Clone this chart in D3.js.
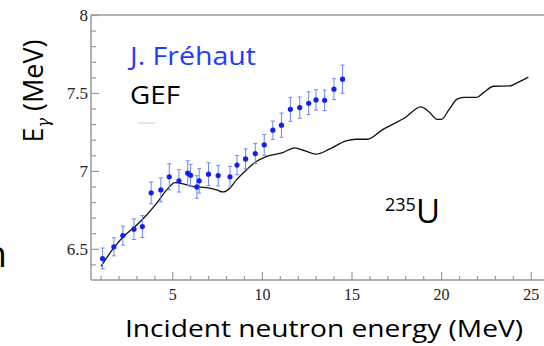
<!DOCTYPE html>
<html><head><meta charset="utf-8">
<script src="https://cdn.jsdelivr.net/npm/d3@7"></script>
<style>html,body{margin:0;padding:0;background:#fff;overflow:hidden}</style>
</head><body>
<svg id="c" width="544" height="346"></svg>
<script>
// Data
const frehautE = [1.11,1.74,2.24,2.86,3.33,3.82,4.36,4.83,5.37,5.86,6.02,6.37,6.5,7.02,7.56,8.22,8.61,9.09,9.63,10.13,10.61,11.09,11.59,12.11,12.61,13.02,13.5,14.02,14.5];
const frehautEg = [6.438,6.513,6.585,6.626,6.643,6.859,6.878,6.962,6.936,6.985,6.972,6.897,6.936,6.979,6.970,6.962,7.037,7.077,7.111,7.167,7.261,7.293,7.395,7.406,7.434,7.455,7.453,7.524,7.588];
const frehautErr = [0.067,0.058,0.061,0.066,0.07,0.07,0.077,0.084,0.072,0.08,0.07,0.072,0.078,0.073,0.066,0.067,0.062,0.064,0.064,0.067,0.059,0.078,0.077,0.068,0.073,0.065,0.066,0.067,0.09];
const gefE = [1.02,1.72,2.28,2.93,3.49,4.13,4.69,5.15,5.61,6.17,6.91,7.47,7.83,8.21,8.58,9.13,9.69,10.24,11.17,11.82,12.37,13.02,13.76,14.69,15.24,15.89,16.72,18.02,18.86,19.32,19.78,20.02,20.43,20.89,21.26,22.0,22.37,22.93,23.86,24.13,24.87];
const gefEg = [6.387,6.504,6.579,6.643,6.707,6.793,6.878,6.925,6.917,6.899,6.893,6.878,6.865,6.889,6.942,7.006,7.060,7.092,7.117,7.147,7.130,7.107,7.139,7.192,7.203,7.203,7.263,7.344,7.410,7.380,7.331,7.331,7.391,7.460,7.472,7.472,7.502,7.543,7.545,7.558,7.601];
const xMajorTicks = [5,10,15,20,25];
const xMinorTicks = d3.range(1,26).filter(v => v % 5 !== 0);
const yMajorTicks = [6.5,7,7.5,8];
const yMinorTicks = [6.4,6.6,6.7,6.8,6.9,7.1,7.2,7.3,7.4,7.6,7.7,7.8,7.9];

const svg = d3.select("#c");
const x = d3.scaleLinear().domain([0,25]).range([82.7,530.7]);
const y = d3.scaleLinear().domain([6.3,8]).range([280,15]);
const axisColor = "#999";
const pL = 91, pR = 544, pT = 15, pB = 280;

// frame lines
svg.append("line").attr("x1",pL).attr("x2",pR).attr("y1",pT).attr("y2",pT)
  .attr("stroke",axisColor).attr("stroke-width",1.5);

// x axis
const gx = svg.append("g").attr("transform",`translate(0,${pB})`);
gx.call(d3.axisBottom(x).tickValues(xMajorTicks).tickSize(-8).tickPadding(9).tickFormat(d3.format("d")));
const gxm = svg.append("g").attr("transform",`translate(0,${pB})`);
gxm.call(d3.axisBottom(x).tickValues(xMinorTicks).tickSize(-4).tickFormat(""));
[gx,gxm].forEach(g => { g.select(".domain").remove(); g.selectAll("line").attr("stroke",axisColor).attr("stroke-width",1.2); });
gx.selectAll("text").attr("font-family","Liberation Serif").attr("font-size",16).attr("fill","#222");
svg.append("line").attr("x1",pL).attr("x2",pR).attr("y1",pB).attr("y2",pB)
  .attr("stroke",axisColor).attr("stroke-width",1.5);

// y axis
const gy = svg.append("g").attr("transform",`translate(${pL},0)`);
gy.call(d3.axisLeft(y).tickValues(yMajorTicks).tickSize(-8).tickPadding(3).tickFormat(d => String(d)));
const gym = svg.append("g").attr("transform",`translate(${pL},0)`);
gym.call(d3.axisLeft(y).tickValues(yMinorTicks).tickSize(-5).tickFormat(""));
[gy,gym].forEach(g => { g.select(".domain").remove(); g.selectAll("line").attr("stroke",axisColor).attr("stroke-width",1.2); });
gy.selectAll("text").attr("font-family","Liberation Serif").attr("font-size",17).attr("fill","#222");
svg.append("line").attr("x1",pL).attr("x2",pL).attr("y1",pT).attr("y2",pB)
  .attr("stroke",axisColor).attr("stroke-width",1.5);

// GEF line
const gef = gefE.map((e,i) => [e, gefEg[i]]);
svg.append("path").datum(gef)
  .attr("d", d3.line().x(d => x(d[0])).y(d => y(d[1])).curve(d3.curveMonotoneX))
  .attr("fill","none").attr("stroke","#111").attr("stroke-width",1.3);

// Frehaut points with error bars
const fr = frehautE.map((e,i) => ({e, v: frehautEg[i], err: frehautErr[i]}));
const eb = svg.append("g").attr("stroke","#6f86f5").attr("stroke-width",1);
fr.forEach(d => {
  eb.append("line").attr("x1",x(d.e)).attr("x2",x(d.e)).attr("y1",y(d.v-d.err)).attr("y2",y(d.v+d.err));
  eb.append("line").attr("x1",x(d.e)-2).attr("x2",x(d.e)+2).attr("y1",y(d.v-d.err)).attr("y2",y(d.v-d.err));
  eb.append("line").attr("x1",x(d.e)-2).attr("x2",x(d.e)+2).attr("y1",y(d.v+d.err)).attr("y2",y(d.v+d.err));
});
svg.append("g").selectAll("circle").data(fr).join("circle")
  .attr("cx", d => x(d.e)).attr("cy", d => y(d.v)).attr("r",2.6).attr("fill","#1020f0");

// Legend
const sans = "Open Sans";
svg.append("text").attr("x",130).attr("y",65).attr("font-family",sans).attr("font-size",25)
  .attr("textLength",126).attr("lengthAdjust","spacingAndGlyphs")
  .attr("fill","#1f3dff").text("J. Fréhaut");
svg.append("text").attr("x",130).attr("y",104).attr("font-family",sans).attr("font-size",26)
  .attr("textLength",50).attr("lengthAdjust","spacingAndGlyphs")
  .attr("fill","#000").text("GEF");
svg.append("line").attr("x1",138).attr("x2",155).attr("y1",123).attr("y2",123)
  .attr("stroke","#ccc").attr("stroke-width",1);

// 235U
const u = svg.append("text").attr("x",385).attr("y",222.5).attr("font-family",sans).attr("fill","#000");
u.append("tspan").attr("font-size",18).attr("dy",-12).text("235");
u.append("tspan").attr("font-size",33).attr("dy",12).text("U");

// axis titles
const yl = svg.append("text").attr("transform","translate(43,91) rotate(-90)")
  .attr("text-anchor","middle").attr("font-family",sans).attr("font-size",27).attr("fill","#000");
yl.append("tspan").text("E");
yl.append("tspan").attr("font-family","DejaVu Serif").attr("font-style","italic").attr("font-size",16).attr("dy",6).text("γ");
yl.append("tspan").attr("dy",-6).text(" (MeV)");

svg.append("text").attr("x",125).attr("y",336.5)
  .attr("font-family",sans).attr("font-size",24).attr("fill","#000")
  .attr("textLength",398).attr("lengthAdjust","spacingAndGlyphs")
  .text("Incident neutron energy (MeV)");

// partial letter at left edge (cut off in the reference too)
svg.append("text").attr("x",7).attr("y",267).attr("text-anchor","end")
  .attr("font-family",sans).attr("font-size",37).attr("fill","#000").text("n");
</script>
</body></html>
